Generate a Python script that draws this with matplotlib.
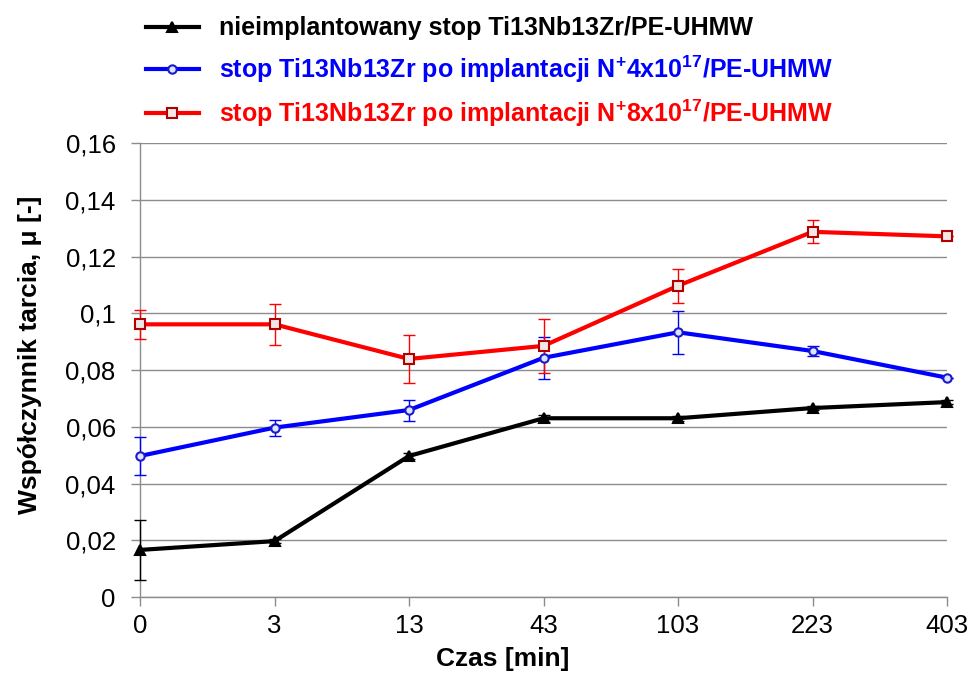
"""Friction coefficient vs. time for Ti13Nb13Zr / PE-UHMW pairs.

Redraws the tribology chart (untreated alloy vs. two N+ implantation
doses) and saves it as out.png.
"""

import matplotlib

matplotlib.use("Agg")  # no display in the sandbox

import matplotlib.pyplot as plt
import numpy as np

# time points are plotted as evenly spaced categories, as in the original
TIMES = ["0", "3", "13", "43", "103", "223", "403"]

UNTREATED = [0.0166, 0.0197, 0.0497, 0.0630, 0.0630, 0.0666, 0.0687]
UNTREATED_ERR = [0.0105, 0.0008, 0.0010, 0.0012, 0.0008, 0.0008, 0.0008]

DOSE_4E17 = [0.0497, 0.0597, 0.0659, 0.0843, 0.0933, 0.0867, 0.0773]
DOSE_4E17_ERR = [0.0068, 0.0028, 0.0037, 0.0073, 0.0075, 0.0016, 0.0]

DOSE_8E17 = [0.0961, 0.0961, 0.0839, 0.0885, 0.1097, 0.1287, 0.1271]
DOSE_8E17_ERR = [0.0050, 0.0072, 0.0083, 0.0096, 0.0060, 0.0041, 0.0]

LABELS = [
    "nieimplantowany stop Ti13Nb13Zr/PE-UHMW",
    "stop Ti13Nb13Zr po implantacji N$^{+}$4x10$^{17}$/PE-UHMW",
    "stop Ti13Nb13Zr po implantacji N$^{+}$8x10$^{17}$/PE-UHMW",
]
Y_TICKS = [0, 0.02, 0.04, 0.06, 0.08, 0.1, 0.12, 0.14, 0.16]

GRID = "#8c8c8c"


def fmt_pl(v: float) -> str:
    # Polish decimal comma, trailing zeros dropped (0,1 not 0,10)
    return f"{v:.2f}".rstrip("0").rstrip(".").replace(".", ",") if v else "0"


def main() -> None:
    plt.rcParams["font.family"] = ["Liberation Sans", "DejaVu Sans"]
    plt.rcParams["mathtext.fontset"] = "custom"
    plt.rcParams["mathtext.rm"] = "Liberation Sans:bold"
    plt.rcParams["mathtext.it"] = "Liberation Sans:bold"
    plt.rcParams["mathtext.bf"] = "Liberation Sans:bold"

    fig = plt.figure(figsize=(9.73, 6.73), dpi=100)
    ax = fig.add_axes([0.1439, 0.1129, 0.8294, 0.6746])
    x = np.arange(len(TIMES))

    series = [
        (UNTREATED, UNTREATED_ERR, "black", "^", "black", "black", 7.5),
        (DOSE_4E17, DOSE_4E17_ERR, "#0000ff", "o", "#dde4ff", "#1a1acc", 6.0),
        (DOSE_8E17, DOSE_8E17_ERR, "#ff0000", "s", "#f2e6e6", "#b00000", 6.5),
    ]
    handles = []
    for vals, errs, color, marker, face, edge, size in series:
        ax.errorbar(
            x, vals, yerr=errs, fmt="none", ecolor=color, elinewidth=1.0,
            capsize=4, capthick=1.0, zorder=3, clip_on=False,
        )
        (line,) = ax.plot(
            x, vals, color=color, linewidth=3.0, marker=marker, markersize=size,
            markerfacecolor=face, markeredgecolor=edge, markeredgewidth=1.5,
            zorder=4, clip_on=False,
        )
        handles.append(line)

    ax.set_xlim(0, len(TIMES) - 1)
    ax.set_ylim(0, 0.16)
    ax.set_xticks(x)
    ax.set_xticklabels(TIMES)
    ax.set_yticks(Y_TICKS)
    ax.set_yticklabels([fmt_pl(v) for v in Y_TICKS])
    ax.tick_params(axis="both", labelsize=18.5, colors=GRID, labelcolor="black",
                   length=6.5, width=1.0)
    ax.tick_params(axis="x", pad=6)
    ax.tick_params(axis="y", pad=11)

    ax.grid(axis="y", color=GRID, linewidth=1.0)
    ax.set_axisbelow(True)
    for side in ("top", "right"):
        ax.spines[side].set_visible(False)
    for side in ("left", "bottom"):
        ax.spines[side].set_color(GRID)
        ax.spines[side].set_linewidth(1.0)

    ax.set_xlabel("Czas [min]", fontsize=19, fontweight="bold")
    ax.set_ylabel("Współczynnik tarcia, μ [-]", fontsize=19, fontweight="bold")
    # ylabel is anchored on its right side once rotated
    ax.xaxis.set_label_coords(0.449, -0.11)
    ax.yaxis.set_label_coords(-0.121, 0.533)

    leg = fig.legend(
        handles, LABELS, loc="upper left", bbox_to_anchor=(0.127, 1.009),
        frameon=False, handlelength=2.1, handletextpad=0.8,
        labelspacing=0.52, prop={"size": 18, "weight": "bold"},
    )
    for text, (_, _, color, *_rest) in zip(leg.get_texts(), series):
        text.set_color(color)

    fig.savefig("out.png", dpi=100)
    plt.close(fig)


if __name__ == "__main__":
    main()
